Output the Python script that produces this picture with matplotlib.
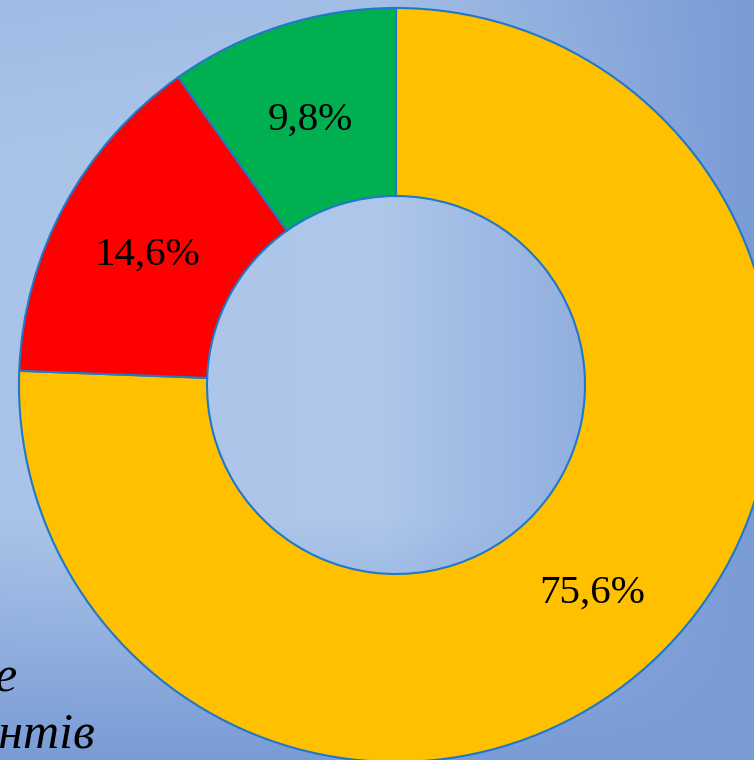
"""
Donut chart: share of three groups (75,6 / 14,6 / 9,8 %) on a blue
gradient slide background.
"""

import matplotlib
matplotlib.use("Agg")
import matplotlib.pyplot as plt
import numpy as np

# --- data -------------------------------------------------------------
SHARES = [75.6, 14.6, 9.8]
COLORS = ["#FFC000", "#FF0000", "#00B050"]
CAPTION_LINES = ["е", "ентів"]

# --- settings ---------------------------------------------------------
W, H = 754, 760
CENTER = (396, H - 385)
R_OUT, R_IN = 377, 189
EDGE = "#1F78C8"


def background(w, h):
    """Lightest around the middle-left, darker to the right and bottom."""
    light = np.array([174, 199, 234]) / 255
    dark = np.array([121, 155, 213]) / 255
    x = np.arange(w)[None, :]
    y = np.arange(h)[:, None]
    tx = np.clip((x - 380) / 374, 0, 1) + 0.08 * np.clip((380 - x) / 380, 0, 1)
    ty = np.clip((y - 520) / 240, 0, 1) + 0.2 * np.clip((150 - y) / 150, 0, 1)
    t = 1 - (1 - np.clip(tx, 0, 1)) * (1 - np.clip(ty, 0, 1))
    return light * (1 - t[..., None]) + dark * t[..., None]


fig = plt.figure(figsize=(W / 100, H / 100), dpi=100)
ax = fig.add_axes([0, 0, 1, 1])
ax.imshow(background(W, H), extent=(0, W, 0, H), origin="upper", zorder=0)

wedges, texts, autotexts = ax.pie(
    SHARES, colors=COLORS, startangle=90, counterclock=False,
    center=CENTER, radius=R_OUT,
    wedgeprops=dict(width=R_OUT - R_IN, edgecolor=EDGE, linewidth=1.5),
    autopct=lambda p: f"{p:.1f}%".replace(".", ","),
    pctdistance=(R_OUT + R_IN) / 2 / R_OUT,
    textprops=dict(family="Liberation Serif", fontsize=29.5, color="black"),
)
for w in wedges:
    w.set_zorder(2)
for t in autotexts:
    t.set_zorder(3)
    t.set_va("center_baseline")

# caption cut off at the left edge of the slide
ax.text(17, 68, CAPTION_LINES[0], ha="right", va="baseline",
        family="Liberation Serif", style="italic", fontsize=36, zorder=3)
ax.text(95, 12, CAPTION_LINES[1], ha="right", va="baseline",
        family="Liberation Serif", style="italic", fontsize=36, zorder=3)

ax.set_xlim(0, W)
ax.set_ylim(0, H)
ax.set_aspect("auto")
ax.axis("off")

fig.savefig("out.png", dpi=100)
